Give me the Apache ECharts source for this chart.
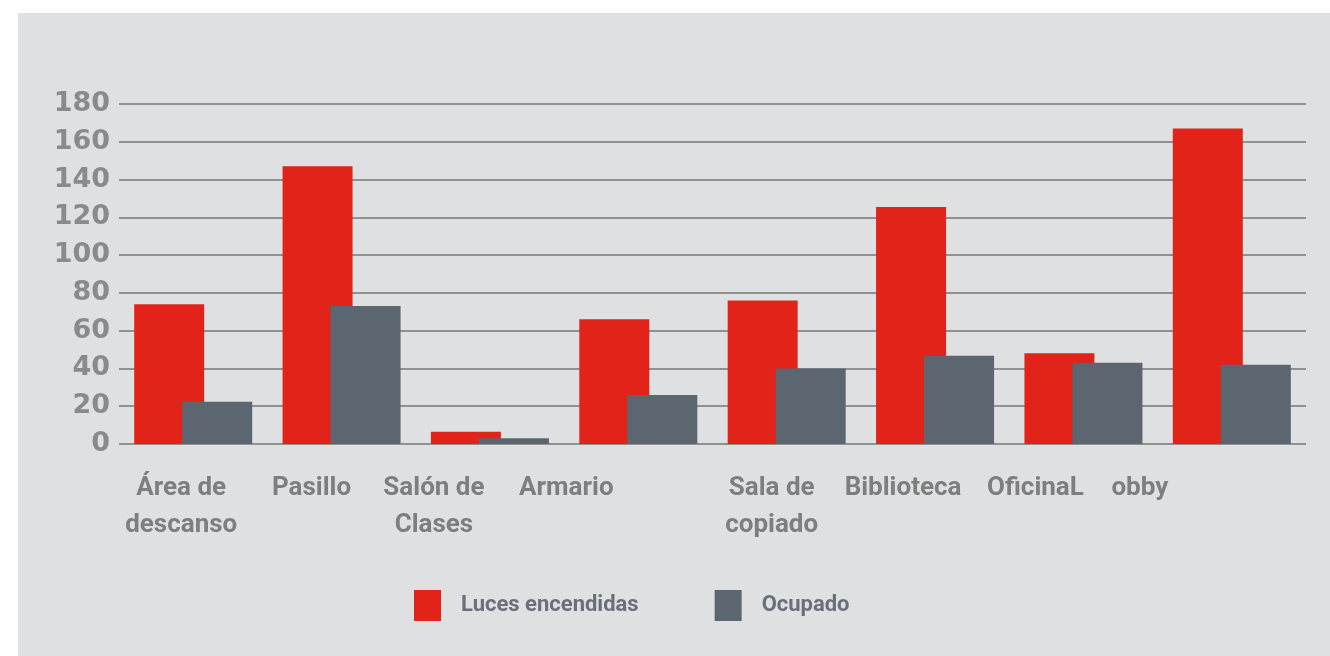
<!DOCTYPE html>
<html>
<head>
<meta charset="utf-8">
<style>
  html, body { margin: 0; padding: 0; background: #ffffff; }
  #chart { width: 1330px; height: 656px; }
</style>
<script src="https://cdn.jsdelivr.net/npm/echarts@6/dist/echarts.min.js"></script>
</head>
<body>
<div id="chart"></div>
<script>
const categories = ['Área de\ndescanso', 'Pasillo', 'Salón de\nClases', 'Armario', 'Sala de\ncopiado', 'Biblioteca', 'OficinaL', 'obby'];
const lucesEncendidas = [74, 147, 6.5, 66, 76, 125.5, 48, 167];
const ocupado = [22.4, 73, 3, 26, 40, 46.7, 43, 42];
const seriesNames = ['Luces encendidas', 'Ocupado'];
const yTicks = { min: 0, max: 180, interval: 20 };

// layout only: horizontal shift (px) of each category label from its slot centre
const labelShift = [12, 30, 56, 72, 15, 32, 48, 92];

const chart = echarts.init(document.getElementById('chart'));
chart.setOption({
  backgroundColor: '#ffffff',
  animation: false,
  graphic: [{
    type: 'rect', left: 18, top: 13, z: -10, silent: true,
    shape: { width: 1312, height: 643 },
    style: { fill: '#dfe0e2' }
  }],
  grid: { left: 119, right: 24, top: 104, bottom: 212, containLabel: false, outerBoundsMode: 'none' },
  legend: {
    left: 414, top: 590, padding: 0,
    itemWidth: 27, itemHeight: 31, itemGap: 76,
    icon: 'rect',
    data: seriesNames,
    textStyle: { fontFamily: 'Roboto', fontWeight: 'bold', fontSize: 22, color: '#69707a', padding: [0, 0, 0, 15] }
  },
  xAxis: {
    type: 'category',
    data: categories.map((c, i) => ({ value: c, textStyle: { padding: [0, labelShift[i] * 2, 0, 0] } })),
    axisLine: { show: false },
    axisTick: { show: false },
    axisLabel: {
      interval: 0, margin: 26, hideOverlap: false,
      fontFamily: 'Roboto', fontWeight: 'bold', fontSize: 26, lineHeight: 37,
      color: '#7e7e7e'
    }
  },
  yAxis: {
    type: 'value', min: yTicks.min, max: yTicks.max, interval: yTicks.interval,
    axisLine: { show: false },
    axisTick: { show: false },
    splitLine: { lineStyle: { color: '#777777', width: 1.5 } },
    axisLabel: { margin: 9, fontFamily: 'DejaVu Sans', fontWeight: 'bold', fontSize: 27, color: '#8a8a8a' }
  },
  series: [
    { name: seriesNames[0], type: 'bar', data: lucesEncendidas, barWidth: 70, barGap: '-31.4%', itemStyle: { color: '#e1231a' } },
    { name: seriesNames[1], type: 'bar', data: ocupado, barWidth: 70, barGap: '-31.4%', itemStyle: { color: '#5c6670' } }
  ]
});
</script>
</body>
</html>
